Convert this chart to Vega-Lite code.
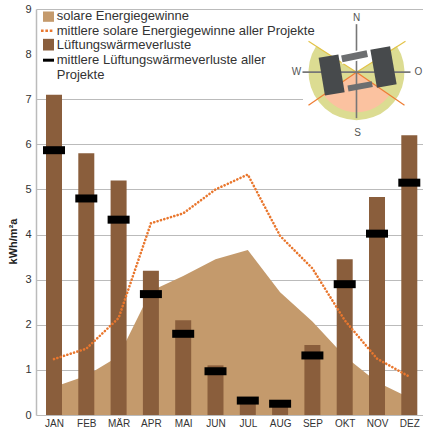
{
"$schema":"https://vega.github.io/schema/vega-lite/v6.json",
"autosize":{"type":"none"},
"padding":{"left":36,"top":9,"right":0,"bottom":17},
"width":387,"height":406,
"background":"white",
"config":{"view":{"stroke":null},"font":"Liberation Sans"},
"datasets":{"monthly":[
{"nr":1,"monat":"JAN","solar":0.62,"solarMittel":1.24,"lueftung":7.1,"lueftungMittel":5.87},
{"nr":2,"monat":"FEB","solar":0.87,"solarMittel":1.47,"lueftung":5.8,"lueftungMittel":4.8},
{"nr":3,"monat":"MÄR","solar":1.3,"solarMittel":2.15,"lueftung":5.2,"lueftungMittel":4.33},
{"nr":4,"monat":"APR","solar":2.75,"solarMittel":4.25,"lueftung":3.2,"lueftungMittel":2.68},
{"nr":5,"monat":"MAI","solar":3.08,"solarMittel":4.47,"lueftung":2.1,"lueftungMittel":1.8},
{"nr":6,"monat":"JUN","solar":3.45,"solarMittel":5.0,"lueftung":1.1,"lueftungMittel":0.97},
{"nr":7,"monat":"JUL","solar":3.66,"solarMittel":5.33,"lueftung":0.3,"lueftungMittel":0.32},
{"nr":8,"monat":"AUG","solar":2.72,"solarMittel":3.97,"lueftung":0.25,"lueftungMittel":0.25},
{"nr":9,"monat":"SEP","solar":2.07,"solarMittel":3.25,"lueftung":1.55,"lueftungMittel":1.32},
{"nr":10,"monat":"OKT","solar":1.3,"solarMittel":2.1,"lueftung":3.45,"lueftungMittel":2.9},
{"nr":11,"monat":"NOV","solar":0.73,"solarMittel":1.25,"lueftung":4.83,"lueftungMittel":4.02},
{"nr":12,"monat":"DEZ","solar":0.38,"solarMittel":0.85,"lueftung":6.2,"lueftungMittel":5.15}
]},
"encoding":{
"x":{"type":"quantitative","title":null,"scale":{"domain":[0.4427,12.424],"nice":false,"zero":false,"padding":0},
"axis":{"orient":"bottom","values":[1,2,3,4,5,6,7,8,9,10,11,12],"labelExpr":"['JAN','FEB','MÄR','APR','MAI','JUN','JUL','AUG','SEP','OKT','NOV','DEZ'][datum.value-1]","grid":false,"ticks":false,"domain":false,"labelFontSize":10,"labelColor":"#333","labelPadding":3,"labelFlush":false}},
"y":{"type":"quantitative","title":"kWh/m²a","stack":null,"scale":{"domain":[0,9],"nice":false},
"axis":{"values":[0,1,2,3,4,5,6,7,8,9],"grid":true,"gridColor":"#bbbbbb","gridWidth":1.2,"gridOpacity":{"condition":{"test":"datum.value==8","value":0},"value":1},"domainColor":"#bbbbbb","domainWidth":1.5,"ticks":false,"labelFontSize":11,"labelColor":"#333","labelPadding":5,"titleFontSize":11,"titleFontWeight":"bold","titleColor":"#222","titlePadding":6,"titleY":232}}
},
"layer":[
{"data":{"name":"monthly"},"mark":{"type":"area","color":"#c49a6c"},"encoding":{"x":{"field":"nr"},"y":{"field":"solar"}}},
{"data":{"name":"monthly"},"mark":{"type":"bar","size":16,"orient":"vertical","color":"#8a5e3c"},"encoding":{"x":{"field":"nr"},"y":{"field":"lueftung"}}},
{"data":{"name":"monthly"},"mark":{"type":"line","color":"#e9772e","strokeWidth":2.6,"strokeCap":"round","strokeDash":[0.1,3.4]},"encoding":{"x":{"field":"nr"},"y":{"field":"solarMittel"}}},
{"data":{"name":"monthly"},"mark":{"type":"tick","orient":"horizontal","size":22,"thickness":8,"opacity":1,"color":"#000000"},"encoding":{"x":{"field":"nr"},"y":{"field":"lueftungMittel"}}},
{"data":{"values":[{"cx":8.709,"cx2":12.424,"cy":8.819,"cy2":6.447}]},"mark":{"type":"rect","fill":"white"},"encoding":{"x":{"field":"cx"},"y":{"field":"cy"},"x2":{"field":"cx2"},"y2":{"field":"cy2"}}},
{"data":{"values":[{"cx":0.659,"cx2":1,"cy":8.945,"cy2":8.716}]},"mark":{"type":"rect","fill":"#c49a6c"},"encoding":{"x":{"field":"cx"},"y":{"field":"cy"},"x2":{"field":"cx2"},"y2":{"field":"cy2"}}},
{"data":{"values":[{"cx":0.659,"cx2":1,"cy":8.339,"cy2":8.08}]},"mark":{"type":"rect","fill":"#8a5e3c"},"encoding":{"x":{"field":"cx"},"y":{"field":"cy"},"x2":{"field":"cx2"},"y2":{"field":"cy2"}}},
{"data":{"values":[{"cx":0.597,"cx2":0.969,"cy":8.517,"cy2":8.517}]},"mark":{"type":"rule","stroke":"#e9772e","strokeWidth":2.4,"strokeDash":[2.6,1.8]},"encoding":{"x":{"field":"cx"},"y":{"field":"cy"},"x2":{"field":"cx2"},"y2":{"field":"cy2"}}},
{"data":{"values":[{"cx":0.659,"cx2":1,"cy":7.865,"cy2":7.865}]},"mark":{"type":"rule","stroke":"#000000","strokeWidth":3},"encoding":{"x":{"field":"cx"},"y":{"field":"cy"},"x2":{"field":"cx2"},"y2":{"field":"cy2"}}},
{"data":{"values":[{"cx":1.084,"cy":8.834,"t":"solare Energiegewinne"},{"cx":1.084,"cy":8.523,"t":"mittlere solare Energiegewinne aller Projekte"},{"cx":1.084,"cy":8.213,"t":"Lüftungswärmeverluste"},{"cx":1.084,"cy":7.88,"t":"mittlere Lüftungswärmeverluste aller"},{"cx":1.084,"cy":7.548,"t":"Projekte"}]},"mark":{"type":"text","fontSize":13,"align":"left","baseline":"middle","color":"#333333"},"encoding":{"x":{"field":"cx"},"y":{"field":"cy"},"text":{"field":"t"}}},
{"data":{"values":[{"cx":10.365,"cy":7.6,"t1":0.995,"t2":5.288}]},"mark":{"type":"arc","innerRadius":0,"outerRadius":48,"fill":"#dcdc92"},"encoding":{"x":{"field":"cx"},"y":{"field":"cy"},"theta":{"field":"t1","type":"quantitative","scale":null},"theta2":{"field":"t2"}}},
{"data":{"values":[{"cx":10.365,"cy":7.6,"t1":2.16,"t2":4.12}]},"mark":{"type":"arc","innerRadius":0,"outerRadius":40,"fill":"#fbc2a0"},"encoding":{"x":{"field":"cx"},"y":{"field":"cy"},"theta":{"field":"t1","type":"quantitative","scale":null},"theta2":{"field":"t2"}}},
{"data":{"values":[{"cx":10.365,"cy":7.6,"cx2":8.879,"cy2":8.287},{"cx":10.365,"cy":7.6,"cx2":11.882,"cy2":8.287}]},"mark":{"type":"rule","stroke":"#e3c347","strokeWidth":1.2},"encoding":{"x":{"field":"cx"},"y":{"field":"cy"},"x2":{"field":"cx2"},"y2":{"field":"cy2"}}},
{"data":{"values":[{"cx":10.365,"cy":7.6,"cx2":8.879,"cy2":6.868},{"cx":10.365,"cy":7.6,"cx2":11.851,"cy2":6.868}]},"mark":{"type":"rule","stroke":"#ee7d33","strokeWidth":1.2},"encoding":{"x":{"field":"cx"},"y":{"field":"cy"},"x2":{"field":"cx2"},"y2":{"field":"cy2"}}},
{"data":{"values":[{"cx":10.365,"cy":8.664,"cx2":10.365,"cy2":6.58},{"cx":8.693,"cy":7.6,"cx2":12.037,"cy2":7.6}]},"mark":{"type":"rule","stroke":"#777777","strokeWidth":1.6},"encoding":{"x":{"field":"cx"},"y":{"field":"cy"},"x2":{"field":"cx2"},"y2":{"field":"cy2"}}},
{"data":{"values":[{"cx":9.885,"cy":7.89,"cx2":10.724,"cy2":8.015}]},"mark":{"type":"rule","stroke":"white","strokeWidth":10},"encoding":{"x":{"field":"cx"},"y":{"field":"cy"},"x2":{"field":"cx2"},"y2":{"field":"cy2"}}},
{"data":{"values":[{"cx":9.91,"cy":7.895,"cx2":10.699,"cy2":8.01}]},"mark":{"type":"rule","stroke":"#6c6e70","strokeWidth":7},"encoding":{"x":{"field":"cx"},"y":{"field":"cy"},"x2":{"field":"cx2"},"y2":{"field":"cy2"}}},
{"data":{"values":[{"cx":10.102,"cy":7.239,"cx2":10.854,"cy2":7.334}]},"mark":{"type":"rule","stroke":"#6c6e70","strokeWidth":6},"encoding":{"x":{"field":"cx"},"y":{"field":"cy"},"x2":{"field":"cx2"},"y2":{"field":"cy2"}}},
{"data":{"values":[{"cx":9.498,"cy":7.955,"cx2":9.693,"cy2":7.119},{"cx":11.099,"cy":8.136,"cx2":11.303,"cy2":7.294}]},"mark":{"type":"rule","stroke":"#474a4c","strokeWidth":20},"encoding":{"x":{"field":"cx"},"y":{"field":"cy"},"x2":{"field":"cx2"},"y2":{"field":"cy2"}}},
{"data":{"values":[{"cx":10.365,"cy":8.797,"t":"N"},{"cx":10.396,"cy":6.259,"t":"S"},{"cx":8.507,"cy":7.6,"t":"W"},{"cx":12.284,"cy":7.6,"t":"O"}]},"mark":{"type":"text","fontSize":10,"color":"#555555"},"encoding":{"x":{"field":"cx"},"y":{"field":"cy"},"text":{"field":"t"}}}
]
}
